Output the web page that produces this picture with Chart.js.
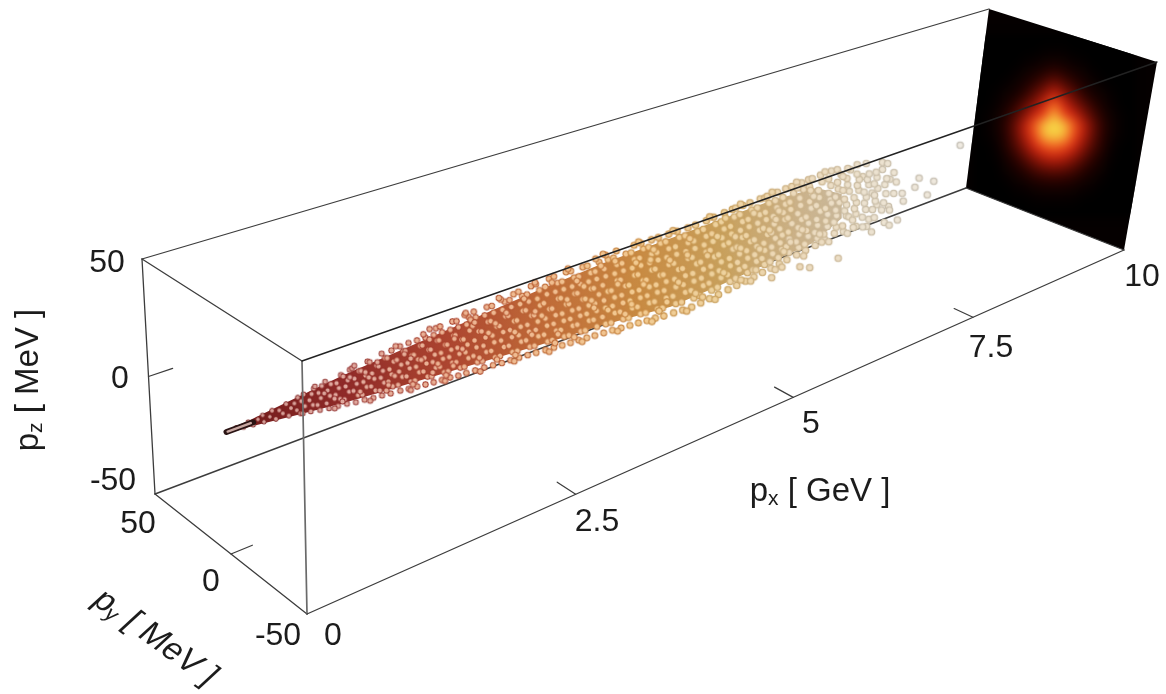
<!DOCTYPE html>
<html>
<head>
<meta charset="utf-8">
<style>
  html, body { margin: 0; padding: 0; background: #fff; }
  canvas { display: block; }
</style>
<script src="https://cdn.jsdelivr.net/npm/chart.js@4/dist/chart.umd.min.js"></script>
</head>
<body>
<canvas id="chart" width="1166" height="694"></canvas>
<script>
// tick values and labels
const pxTicks = [2.5, 5, 7.5];
const pyTicks = [0];
const pzTicks = [0];
const pxLabels = ['0', '2.5', '5', '7.5', '10'];
const pyLabels = ['50', '0', '-50'];
const pzLabels = ['50', '0', '-50'];

// beam outline (GeV, MeV)
const bandPx = [0, 0.2, 0.6, 1, 1.5, 2.2, 2.9, 3.6, 4.4, 5, 5.6, 6.2, 6.6];
const bandTop = [0.6, 1.2, 3.1, 4.9, 6.4, 8.4, 10.5, 12, 12.5, 13, 13.4, 12, 5];
const bandBottom = [-0.6, -1.2, -3.1, -4.9, -6.4, -8.4, -10.5, -12, -15, -14, -12.5, -11, -5];

// macro-particles as px,pz pairs. The picture has no depth to read, so py stays 0.
// Dense core is a hand estimate, the loose ones at the far end are read one by one.
const beadsTip = [0.08,0.3,0.14,-0.5,0.18,0.7,0.22,-0.9,0.26,0.4,0.3,1.2,0.31,-1.2,0.36,-0.2,0.38,1.6,0.41,-1.7,0.44,0.8,0.47,-0.7,0.5,2.1,0.52,-2.2,0.54,0.1,0.57,1.3,0.59,-1.4,0.6,2.9,0.62,-2.9];
const beadsA = [0.64,-3.2,0.66,-1,0.63,1.2,0.65,3.3,0.71,-3.6,0.73,-1.6,0.7,0.5,0.72,2.4,0.74,4,0.79,-4.3,0.77,-2.2,0.8,-0.2,0.78,1.9,0.81,3.9,0.87,-4.9,0.85,-2.8,0.88,-0.6,0.86,1.6,0.89,3.4,0.84,5,0.95,-5.2,0.97,-3,0.93,-1,0.96,1,0.94,3,0.98,5.3,1.03,-5.6,1.01,-3.7,1.05,-1.6,1.02,0.7,1.04,2.6,1,4.5,1.06,6,1.11,-6.2,1.13,-4,1.09,-1.9,1.12,0.2,1.1,2.3,1.14,4.4,1.08,6.3,1.19,-6.5,1.17,-4.4,1.21,-2.2,1.18,0,1.2,2,1.16,4.2,1.22,6.7,1.27,-7,1.29,-4.6,1.25,-2.6,1.28,-0.3,1.26,1.9,1.3,4.1,1.24,6.2,1.35,-7.3,1.33,-5.2,1.37,-3,1.34,-0.8,1.36,1.4,1.32,3.6,1.38,5.7,1.35,7.7,1.43,-7.7,1.45,-5.4,1.41,-3.2,1.44,-1,1.42,1.1,1.46,3.3,1.4,5.4,1.44,7.6];
const beadsB = [1.52,-8,1.5,-5.6,1.54,-3.3,1.51,-1,1.53,1.2,1.49,3.5,1.55,5.8,1.52,8,1.6,-8.5,1.62,-6.1,1.58,-3.7,1.61,-1.2,1.59,1,1.63,3.2,1.57,5.6,1.6,8.1,1.68,-8.8,1.66,-6.3,1.7,-3.9,1.67,-1.5,1.69,0.9,1.65,3.1,1.71,5.5,1.68,7.9,1.76,-9.2,1.78,-6.6,1.74,-4.2,1.77,-1.7,1.75,0.6,1.79,3,1.73,5.4,1.76,7.8,1.74,9.3,1.84,-9.5,1.82,-7,1.86,-4.5,1.83,-2,1.85,0.4,1.81,2.8,1.87,5.2,1.84,7.7,1.86,9.9,1.92,-9.8,1.94,-7.2,1.9,-4.7,1.93,-2.2,1.91,0.2,1.95,2.6,1.89,5.1,1.92,7.6,1.9,10,2,-10,1.98,-7.4,2.02,-4.9,1.99,-2.4,2.01,0,1.97,2.4,2.03,4.9,2,7.4,2.02,10.2,2.08,-10.5,2.1,-7.8,2.06,-5.2,2.09,-2.6,2.07,-0.1,2.11,2.3,2.05,4.8,2.08,7.3,2.06,9.8,2.16,-10.6,2.14,-8,2.18,-5.4,2.15,-2.8,2.17,-0.3,2.13,2.2,2.19,4.6,2.16,7.2,2.18,9.7,2.14,11];
const beadsC = [2.25,-10.9,2.27,-8.1,2.23,-5.3,2.26,-2.5,2.24,0.3,2.28,3.1,2.22,5.9,2.25,8.7,2.23,11,2.34,-11.1,2.32,-8.4,2.36,-5.6,2.33,-2.9,2.35,-0.1,2.31,2.7,2.37,5.4,2.34,8.2,2.36,11,2.43,-11.5,2.45,-8.8,2.41,-5.9,2.44,-3.1,2.42,-0.3,2.46,2.5,2.4,5.3,2.43,8,2.41,10.8,2.52,-11.9,2.5,-9,2.54,-6.2,2.51,-3.4,2.53,-0.5,2.49,2.3,2.55,5.1,2.52,7.9,2.54,10.7,2.5,12,2.61,-12.1,2.63,-9.3,2.59,-6.4,2.62,-3.6,2.6,-0.7,2.64,2.1,2.58,4.9,2.61,7.8,2.59,10.6,2.63,12.3,2.7,-12.3,2.68,-9.5,2.72,-6.6,2.69,-3.8,2.71,-0.9,2.67,2,2.73,4.8,2.7,7.7,2.72,10.5,2.68,12.6,2.79,-12.6,2.81,-9.7,2.77,-6.8,2.8,-4,2.78,-1.1,2.82,1.8,2.76,4.6,2.79,7.5,2.77,10.4,2.81,13,2.88,-12.9,2.86,-10,2.9,-7,2.87,-4.2,2.89,-1.3,2.85,1.6,2.91,4.5,2.88,7.4,2.9,10.3,2.86,13.1];
const beadsD = [2.98,-13.3,3,-10.3,2.96,-7.2,2.99,-4.2,2.97,-1.2,3.01,1.8,2.95,4.8,2.98,7.8,2.96,10.8,3,13.4,3.07,-13.5,3.05,-10.4,3.09,-7.4,3.06,-4.4,3.08,-1.4,3.04,1.6,3.1,4.6,3.07,7.6,3.09,10.6,3.05,13.6,3.16,-13.9,3.18,-10.8,3.14,-7.8,3.17,-4.7,3.15,-1.7,3.19,1.3,3.13,4.4,3.16,7.4,3.14,10.5,3.18,13.7,3.25,-14.1,3.23,-11,3.27,-7.9,3.24,-4.9,3.26,-1.9,3.22,1.1,3.28,4.2,3.25,7.3,3.27,10.4,3.23,13.5,3.34,-14.3,3.36,-11.2,3.32,-8.1,3.35,-5.1,3.33,-2.1,3.37,0.9,3.31,4,3.34,7.1,3.32,10.2,3.36,13.3,3.43,-14.6,3.41,-11.5,3.45,-8.3,3.42,-5.3,3.44,-2.3,3.4,0.7,3.46,3.8,3.43,6.9,3.45,10,3.41,13.2,3.52,-14.9,3.54,-11.7,3.5,-8.6,3.53,-5.5,3.51,-2.5,3.55,0.5,3.49,3.6,3.52,6.8,3.5,9.9,3.54,13,3.5,14.8];
const beadsE = [3.62,-15.2,3.64,-12,3.6,-8.8,3.63,-5.7,3.61,-2.6,3.65,0.4,3.59,3.5,3.62,6.6,3.6,9.7,3.64,12.8,3.61,14.9,3.72,-15.5,3.7,-12.3,3.74,-9.1,3.71,-6,3.73,-2.9,3.69,0.2,3.75,3.3,3.72,6.4,3.74,9.6,3.7,12.7,3.73,15,3.82,-15.9,3.84,-12.6,3.8,-9.4,3.83,-6.3,3.81,-3.1,3.85,0,3.79,3.1,3.82,6.3,3.8,9.4,3.84,12.5,3.92,-16.2,3.9,-12.9,3.94,-9.7,3.91,-6.5,3.93,-3.3,3.89,-0.2,3.95,2.9,3.92,6.1,3.94,9.2,3.9,12.3,3.93,14.8,4.02,-16.5,4.04,-13.2,4,-10,4.03,-6.8,4.01,-3.6,4.05,-0.4,3.99,2.7,4.02,5.9,4,9,4.04,12.1,4.01,14.6,4.12,-16.9,4.1,-13.5,4.14,-10.2,4.11,-7,4.13,-3.8,4.09,-0.6,4.15,2.5,4.12,5.7,4.14,8.9,4.1,12,4.13,14.6,4.22,-17.2,4.24,-13.8,4.2,-10.5,4.23,-7.2,4.21,-4,4.25,-0.8,4.19,2.4,4.22,5.6,4.2,8.8,4.24,11.9,4.21,14.5,4.32,-17.6,4.3,-14.2,4.34,-10.8,4.31,-7.5,4.33,-4.2,4.29,-1,4.35,2.2,4.32,5.4,4.34,8.6,4.3,11.8,4.33,14.4];
const beadsF = [4.44,-17.9,4.46,-14.5,4.42,-11.1,4.45,-7.8,4.43,-4.5,4.47,-1.2,4.41,2,4.44,5.2,4.42,8.4,4.46,11.6,4.43,14.4,4.55,-18.2,4.53,-14.8,4.57,-11.4,4.54,-8,4.56,-4.7,4.52,-1.4,4.58,1.8,4.55,5,4.57,8.2,4.53,11.4,4.56,14.2,4.66,-18.4,4.68,-15,4.64,-11.6,4.67,-8.2,4.65,-4.9,4.69,-1.6,4.63,1.7,4.66,4.9,4.64,8.1,4.68,11.3,4.65,14.3,4.77,-18.1,4.75,-14.9,4.79,-11.5,4.76,-8.1,4.78,-4.8,4.74,-1.5,4.8,1.8,4.77,5,4.79,8.2,4.75,11.4,4.78,14.5,4.88,-17.8,4.9,-14.6,4.86,-11.3,4.89,-8,4.87,-4.7,4.91,-1.4,4.85,1.9,4.88,5.1,4.86,8.4,4.9,11.6,4.87,14.9,4.99,-17.5,4.97,-14.3,5.01,-11,4.98,-7.8,5,-4.5,4.96,-1.2,5.02,2,4.99,5.3,5.01,8.6,4.97,11.9,5,15.2];
const beadsG = [5.11,-17,5.13,-13.9,5.09,-10.7,5.12,-7.5,5.1,-4.3,5.14,-1,5.08,2.2,5.11,5.4,5.09,8.7,5.13,12,5.1,15.4,5.14,15.5,5.22,-16.6,5.2,-13.5,5.24,-10.4,5.21,-7.2,5.23,-4,5.19,-0.8,5.25,2.4,5.22,5.6,5.24,8.9,5.2,12.2,5.23,15.5,5.33,-16.2,5.35,-13,5.31,-10,5.34,-7,5.32,-3.8,5.36,-0.6,5.3,2.6,5.33,5.8,5.31,9,5.35,12.3,5.32,15.6,5.44,-15.8,5.42,-12.7,5.46,-9.7,5.43,-6.7,5.45,-3.6,5.41,-0.4,5.47,2.8,5.44,6,5.46,9.2,5.42,12.4,5.45,15.7,5.51,15.4,5.55,-15.3,5.57,-12.3,5.53,-9.4,5.56,-6.4,5.54,-3.3,5.58,-0.2,5.52,3,5.55,6.2,5.53,9.4,5.57,12.6,5.54,15.8,5.66,-14.9,5.68,-19,5.64,-12,5.67,-9.1,5.65,-6.1,5.69,-3,5.63,0,5.66,3.2,5.64,6.4,5.68,9.6,5.65,12.8,5.67,16,5.77,-14.4,5.75,-11.6,5.79,-8.7,5.76,-5.7,5.78,-2.7,5.74,0.3,5.8,3.4,5.77,6.6,5.79,9.8,5.75,13,5.78,16.2,5.81,-16.2,5.87,-13.9,5.89,-11.1,5.85,-8.3,5.88,-5.4,5.86,-2.4,5.9,0.6,5.84,3.6,5.87,6.8,5.85,10,5.89,13.2,5.86,16.3];
const beadsH = [6,-13.4,6.02,-10.6,5.98,-7.8,6.01,-5,5.99,-2.1,6.03,0.9,5.97,3.9,6,7,5.98,10.2,6.02,13.4,5.99,16.4,6.06,-19,6.08,16.7,6.12,-12.9,6.1,-10.1,6.14,-7.3,6.11,-4.6,6.13,-1.8,6.09,1.2,6.15,4.2,6.12,7.2,6.14,10.4,6.1,13.6,6.13,16.6,6.2,-21,6.25,-12.4,6.27,-9.6,6.23,-6.8,6.26,-4.1,6.24,-1.5,6.28,1.5,6.22,4.5,6.25,7.5,6.23,10.6,6.27,13.8,6.24,16.9,6.38,-11.4,6.36,-8.9,6.4,-6.2,6.37,-3.6,6.39,-1,6.35,1.9,6.41,4.8,6.38,7.8,6.4,10.9,6.36,14,6.39,17,6.47,16.7,6.51,-10.3,6.53,-7.9,6.49,-5.4,6.52,-3,6.5,-0.5,6.54,2.3,6.48,5.2,6.51,8.2,6.49,11.2,6.53,14.1,6.6,-21.7,6.64,-11,6.62,-8.4,6.66,-4.6,6.63,-2.2,6.65,0.1,6.61,2.9,6.67,5.6,6.64,8.6,6.62,11.5,6.66,14.6];
const beadsFill = [0.92,-2.2,1.06,3.4,1.15,-3,1.23,0.9,1.31,5.2,1.39,-6.1,1.47,-2,1.56,4.6,1.64,-7.4,1.72,0.3,1.8,6.6,1.88,-3.3,1.96,-8.6,2.04,3.6,2.12,-1.2,2.2,8.4,2.29,-6.8,2.38,1.2,2.47,-9.9,2.56,6.3,2.65,-2.1,2.74,9.2,2.83,-5.5,2.93,0.4,3.03,11.6,3.11,-9,3.2,3,3.29,-12.5,3.38,5.7,3.47,-0.8,3.56,11.4,3.66,-6.9,3.76,1.8,3.86,-11,3.96,7.7,4.06,-2,4.16,10.4,4.26,-14.9,4.36,3.8,4.48,-6.3,4.59,9.6,4.7,-13.4,4.82,0.1,4.93,6.5,5.04,-9.3,5.16,3.7,5.27,-15,5.38,10.7,5.49,-5.1,5.6,1.4,5.71,7.9,5.82,-10,5.94,14.8,6.05,-3.6,6.17,8.9,6.3,-8.2,6.43,3.2,6.56,12.9,6.7,-5.5,0.83,1,0.99,-4.2,1.2,3.2,1.41,-4.4,1.62,2.2,1.83,-5.8,2.03,-6.2,2.24,6.9,2.45,3.8,2.66,-10.8,2.86,2.9,3.08,-11.9,3.3,8.8,3.5,-4,3.72,11.2,3.93,-8.1,4.13,6.8,4.35,-12.5,4.57,3.4,4.79,-16,5.02,12.8,5.24,-1.8,5.46,-13.2,5.68,4.8,5.9,-7,6.12,11.9,6.34,-12,6.58,6.9,6.82,-10.8,6.85,9.8,6.98,-12.6,7.01,1.2,7.1,-4.8,7.13,9.9,7.24,-13.8,7.26,4.4,7.28,-7.4,7.12,13,6.88,15,7,-9.8];
const beadsEdge = [0.75,4.6,0.92,-5.6,1.1,6.9,1.24,-7.6,1.48,8.6,1.62,-9.2,1.8,10.4,1.95,-10.6,2.15,11.6,2.3,-12,2.48,12.8,2.65,-13,2.85,13.9,3.02,-14.4,3.2,14.7,3.38,-15.4,3.58,15.6,3.78,-16.6,3.98,15.6,4.18,-18,4.38,15.2,4.6,-19.2,4.82,15.6,4.95,-18.9,5.2,16.4,5.4,-17,5.6,16.8,5.72,-16.2,5.92,17.4,6.1,-15,6.3,17.6,6.44,-13,6.62,15.6,6.7,-12.4];
const beadsLoose = [6.75,19,6.78,-13,6.76,-9,6.8,-6.4,6.77,-3.4,6.79,-0.5,6.75,2.4,6.81,5.4,6.78,8.2,6.8,11,6.76,14.2,6.92,-14.6,6.9,-9.4,6.94,-6,6.91,-2.4,6.93,0.4,6.89,3.4,6.95,6.4,6.92,9.4,6.94,12,7.06,-19,7.08,-12,7.04,-7.4,7.07,-3.4,7.05,-0.2,7.09,2.8,7.03,5.8,7.06,8.8,7.04,11.6,7.2,14,7.18,-9.4,7.2,-6,7.22,-1.6,7.19,3.4,7.21,6.2,7.32,-19,7.31,8,7.3,-11,7.34,-3,7.36,2.6,7.44,-17.9,7.47,-4.6,7.5,-9,7.66,-3.9,7.71,0.2,7.87,-10.5,7.95,-4.4,8.31,10];
const coreSpread = 1.2; // the core lists above came out narrow against the picture

// transverse spot on the px = 10 wall, 5 MeV cells, 0-100
const spotCentre = [3, 0];
const spotCells = [
  [0,0,0,0,0,0,0,0,0,0,0,0,0,0,0,0,0],
  [0,0,0,0,0,0,0,1,1,1,0,0,0,0,0,0,0],
  [0,0,0,0,0,1,2,3,4,3,2,1,0,0,0,0,0],
  [0,0,0,0,1,3,5,8,11,8,5,3,1,0,0,0,0],
  [0,0,0,1,3,6,11,18,25,18,11,6,3,1,0,0,0],
  [0,0,1,3,5,11,21,32,46,32,21,11,5,3,1,0,0],
  [0,0,2,5,11,21,32,50,71,50,32,21,11,5,2,0,0],
  [0,1,3,8,18,32,50,65,84,65,50,32,18,8,3,1,0],
  [0,1,4,11,25,46,71,92,100,92,71,46,25,11,4,1,0],
  [0,1,3,10,23,42,65,84,92,84,65,42,23,10,3,1,0],
  [0,0,2,8,18,32,50,65,71,65,50,32,18,8,2,0,0],
  [0,0,1,5,11,21,32,42,46,42,32,21,11,5,1,0,0],
  [0,0,0,3,6,11,18,23,25,23,18,11,6,3,0,0,0],
  [0,0,0,1,3,5,8,10,11,10,8,5,3,1,0,0,0],
  [0,0,0,0,1,2,3,4,4,4,3,2,1,0,0,0,0],
  [0,0,0,0,0,0,1,1,1,1,1,0,0,0,0,0,0],
  [0,0,0,0,0,0,0,0,0,0,0,0,0,0,0,0,0]
];

// colour by px (edge of a bead, middle of a bead)
const colourPx = [0, 1, 2, 3, 4, 5, 6, 7, 8.5];
const edgeColours = ['#6e1a1a', '#8f2a28', '#ad4630', '#c06c38', '#c88a42', '#c8a05c', '#cbb28a', '#c8bca6', '#c0bcb4'];
const coreColours = ['#d09a94', '#e0a89e', '#ecb292', '#f0be90', '#f2ca90', '#eed29e', '#ecdabc', '#ece2d0', '#efebe4'];
const heatStops = [[0, '#000000'], [0.1, '#2a0200'], [0.37, '#a01808'], [0.58, '#e83018'], [0.72, '#f06020'], [0.84, '#f5b038'], [1, '#f7d948']];

// view of the box: the four corners of each end wall as they land on the page
const nearWall = { tb: [142, 259], bb: [155, 494], bf: [307, 614], tf: [302, 361] };
const farWall = { tb: [989, 9], bb: [966, 188], bf: [1124, 250], tf: [1157, 62] };
const depth = 1.47;

const mix = (a, b, f) => a + (b - a) * f;
const mix2 = (a, b, f) => [mix(a[0], b[0], f), mix(a[1], b[1], f)];

function project(px, py, pz) {
  const t = px / 10;
  const s = depth * t / (1 + (depth - 1) * t);
  const u = (py + 50) / 100;
  const w = (pz + 50) / 100;
  const onWall = wall => mix2(mix2(wall.bf, wall.bb, u), mix2(wall.tf, wall.tb, u), w);
  const p = mix2(onWall(nearWall), onWall(farWall), s);
  return { x: p[0], y: p[1] };
}

function hexToRgb(hex) {
  return [1, 3, 5].map(i => parseInt(hex.slice(i, i + 2), 16));
}

function colourAt(list, px) {
  let i = 0;
  while (i < colourPx.length - 2 && px > colourPx[i + 1]) i++;
  const f = Math.min(1, (px - colourPx[i]) / (colourPx[i + 1] - colourPx[i]));
  const a = hexToRgb(list[i]), b = hexToRgb(list[i + 1]);
  return 'rgb(' + a.map((v, k) => Math.round(mix(v, b[k], f))).join(',') + ')';
}

// one small shaded ball per 0.25 GeV step
const sprites = {};
function beadSprite(px) {
  const key = Math.round(px * 4);
  if (sprites[key]) return sprites[key];
  const r = px < 1 ? mix(2.4, 3.2, px) : Math.min(4.1, mix(3.2, 4.1, (px - 1) / 4));
  const size = Math.ceil(r * 2) + 2;
  const c = document.createElement('canvas');
  c.width = c.height = size;
  const g = c.getContext('2d');
  const grad = g.createRadialGradient(size / 2, size / 2, 0, size / 2, size / 2, r);
  const core = colourAt(coreColours, key / 4), edge = colourAt(edgeColours, key / 4);
  grad.addColorStop(0, core);
  grad.addColorStop(0.45, core);
  grad.addColorStop(0.82, edge);
  grad.addColorStop(1, edge.replace('rgb', 'rgba').replace(')', ',0.5)'));
  g.fillStyle = grad;
  g.beginPath();
  g.arc(size / 2, size / 2, r, 0, Math.PI * 2);
  g.fill();
  sprites[key] = c;
  return c;
}

const beadPoints = [];
const beadEnergy = [];
function addBeads(list, spread) {
  for (let i = 0; i < list.length; i += 2) {
    beadPoints.push(project(list[i], 0, list[i + 1] * spread));
    beadEnergy.push(list[i]);
  }
}
[beadsTip, beadsA, beadsB, beadsC, beadsD, beadsE, beadsF, beadsG, beadsH, beadsEdge, beadsFill].forEach(l => addBeads(l, coreSpread));
addBeads(beadsLoose, 1);

function segment(a, b, color, width, order) {
  return {
    data: [project(a[0], a[1], a[2]), project(b[0], b[1], b[2])],
    showLine: true, pointRadius: 0, borderColor: color, borderWidth: width, order: order, fill: false,
    borderCapStyle: 'round'
  };
}

const canvas = document.getElementById('chart');
const mainCtx = canvas.getContext('2d');
const x0 = project(0, 0, 0).x, x1 = project(8.5, 0, 0).x;
const bandGradient = mainCtx.createLinearGradient(x0, 0, x1, 0);
colourPx.forEach(v => {
  const f = (project(v, 0, 0).x - x0) / (x1 - x0);
  bandGradient.addColorStop(f, colourAt(edgeColours, v));
});

const lineDark = '#3c3c3c';
const datasets = [
  // behind the beam
  segment([0, 50, 50], [10, 50, 50], lineDark, 1.3, 9),
  segment([0, 50, -50], [10, 50, -50], lineDark, 1.4, 9),
  segment([0, 50, 50], [0, 50, -50], lineDark, 1.3, 9),
  segment([0, 50, 50], [0, -50, 50], lineDark, 1.3, 9),
  segment([0, 50, -50], [0, -50, -50], lineDark, 1.3, 9),
  segment([10, 50, -50], [10, -50, -50], lineDark, 1.3, 9),
  // band under the beads
  {
    data: bandPx.map((v, i) => project(v, 0, bandTop[i] * coreSpread)),
    showLine: true, pointRadius: 0, borderWidth: 0, borderColor: 'rgba(0,0,0,0)', order: 8, fill: false
  },
  {
    data: bandPx.map((v, i) => project(v, 0, bandBottom[i] * coreSpread)),
    showLine: true, pointRadius: 0, borderWidth: 0, borderColor: 'rgba(0,0,0,0)', order: 8,
    fill: '-1', backgroundColor: bandGradient
  },
  {
    data: beadPoints, showLine: false, order: 7, pointRadius: 3,
    pointStyle: ctx => beadSprite(beadEnergy[ctx.dataIndex] || 0)
  },
  // the first bunch at the tip, dark rim with a pale middle
  segment([0, 0, 0], [0.22, 0, 0], '#2a1414', 6, 6),
  segment([0.01, 0, 0], [0.2, 0, 0], '#c9a8a2', 2.5, 5),
  // in front of the beam
  segment([0, -50, 50], [10, -50, 50], '#222222', 1.4, 2),
  segment([0, -50, -50], [10, -50, -50], lineDark, 1.3, 2),
  segment([0, -50, 50], [0, -50, -50], '#6a6a6a', 1.7, 2),
  ...pxTicks.map(v => segment([v, -50, -50], [v, -38, -50], lineDark, 1.2, 2)),
  ...pyTicks.map(v => segment([0, v, -50], [0.18, v, -50], lineDark, 1.2, 2)),
  ...pzTicks.map(v => segment([0, 50, v], [0.2, 50, v], lineDark, 1.2, 2))
];

function heatColour(v) {
  let i = 0;
  while (i < heatStops.length - 2 && v > heatStops[i + 1][0]) i++;
  const f = (v - heatStops[i][0]) / (heatStops[i + 1][0] - heatStops[i][0]);
  const a = hexToRgb(heatStops[i][1]), b = hexToRgb(heatStops[i + 1][1]);
  return 'rgb(' + a.map((c, k) => Math.round(mix(c, b[k], f))).join(',') + ')';
}

const spotPlugin = {
  id: 'spot',
  beforeDatasetsDraw(chart) {
    const ctx = chart.ctx;
    const xs = chart.scales.x, ys = chart.scales.y;
    const at = (py, pz) => {
      const p = project(10, py, pz);
      return [xs.getPixelForValue(p.x), ys.getPixelForValue(p.y)];
    };
    const quad = [at(50, 50), at(-50, 50), at(-50, -50), at(50, -50)];
    ctx.save();
    ctx.beginPath();
    quad.forEach((p, i) => i ? ctx.lineTo(p[0], p[1]) : ctx.moveTo(p[0], p[1]));
    ctx.closePath();
    ctx.fillStyle = '#050000';
    ctx.fill();
    ctx.clip();

    const n = spotCells.length;
    const img = document.createElement('canvas');
    img.width = img.height = n;
    const g = img.getContext('2d');
    spotCells.forEach((row, r) => row.forEach((v, c) => {
      g.fillStyle = heatColour(v / 100);
      g.fillRect(c, r, 1, 1);
    }));
    // the spot stays round on the page, it does not follow the shear of the wall
    const c = at(spotCentre[0], spotCentre[1]);
    const w = 9.6 * n, h = 10.8 * n;
    ctx.imageSmoothingEnabled = true;
    ctx.imageSmoothingQuality = 'high';
    ctx.filter = 'blur(4px)';
    ctx.drawImage(img, c[0] - w / 2, c[1] - h / 2, w, h);
    ctx.restore();
  }
};

function drawTitle(ctx, main, sub, tail, x, y, angle, shear) {
  const big = '33px "Liberation Sans"', small = '21px "Liberation Sans"';
  ctx.save();
  ctx.translate(x, y);
  ctx.rotate(angle);
  ctx.transform(1, 0, shear, 1, 0, 0);
  ctx.fillStyle = '#1c1c1c';
  ctx.textAlign = 'left';
  ctx.textBaseline = 'middle';
  ctx.font = big;
  const w1 = ctx.measureText(main).width, w3 = ctx.measureText(tail).width;
  ctx.font = small;
  const w2 = ctx.measureText(sub).width;
  let pos = -(w1 + w2 + w3) / 2;
  ctx.font = big;
  ctx.fillText(main, pos, 0);
  pos += w1;
  ctx.font = small;
  ctx.fillText(sub, pos, 7);
  pos += w2;
  ctx.font = big;
  ctx.fillText(tail, pos, 0);
  ctx.restore();
}

// label centres on the page, same order as the label arrays
const pxLabelAt = [[333, 636], [597, 522], [811, 424], [991, 348], [1142, 277]];
const pyLabelAt = [[138, 524], [211, 582], [278, 636]];
const pzLabelAt = [[107, 263], [120, 379], [113, 481]];

const textPlugin = {
  id: 'texts',
  afterDraw(chart) {
    const ctx = chart.ctx;
    ctx.save();
    ctx.fillStyle = '#1c1c1c';
    ctx.font = '32px "Liberation Sans"';
    ctx.textAlign = 'center';
    ctx.textBaseline = 'middle';
    [[pxLabels, pxLabelAt], [pyLabels, pyLabelAt], [pzLabels, pzLabelAt]].forEach(([labels, at]) => {
      labels.forEach((t, i) => ctx.fillText(t, at[i][0], at[i][1]));
    });
    ctx.restore();
    drawTitle(ctx, 'p', 'x', ' [ GeV ]', 820, 492, 0, 0);
    drawTitle(ctx, 'p', 'z', ' [ MeV ]', 29, 380, -Math.PI / 2, 0);
    drawTitle(ctx, 'p', 'y', ' [ MeV ]', 155, 638, 36 * Math.PI / 180, -0.2);
  }
};

new Chart(canvas, {
  type: 'scatter',
  data: { datasets: datasets },
  options: {
    responsive: false,
    animation: false,
    layout: { padding: 0, autoPadding: false },
    plugins: { legend: { display: false }, tooltip: { enabled: false }, title: { display: false } },
    scales: {
      x: { type: 'linear', min: 0, max: 1166, display: false },
      y: { type: 'linear', min: 0, max: 694, reverse: true, display: false }
    }
  },
  plugins: [spotPlugin, textPlugin]
});
</script>
</body>
</html>
